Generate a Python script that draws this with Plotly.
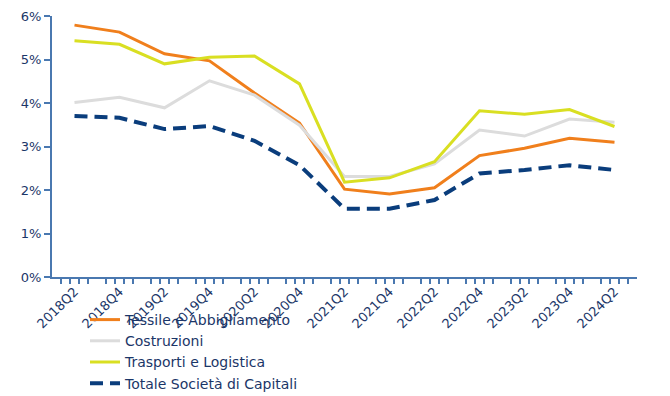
import plotly.graph_objects as go

quarters = ["2018Q2", "2018Q4", "2019Q2", "2019Q4", "2020Q2", "2020Q4", "2021Q2",
            "2021Q4", "2022Q2", "2022Q4", "2023Q2", "2023Q4", "2024Q2"]

tessile = [5.79, 5.63, 5.13, 4.97, 4.23, 3.54, 2.02, 1.91, 2.05, 2.79, 2.96, 3.19, 3.10]
costruzioni = [4.01, 4.13, 3.89, 4.51, 4.18, 3.49, 2.31, 2.31, 2.60, 3.38, 3.24, 3.63, 3.56]
trasporti = [5.43, 5.35, 4.90, 5.05, 5.08, 4.44, 2.18, 2.28, 2.65, 3.82, 3.74, 3.85, 3.46]
totale = [3.70, 3.66, 3.40, 3.47, 3.13, 2.57, 1.57, 1.57, 1.77, 2.38, 2.46, 2.57, 2.46]

y_ticks = [0, 1, 2, 3, 4, 5, 6]
y_ticktext = ["0%", "1%", "2%", "3%", "4%", "5%", "6%"]

NAVY = "#1b3668"
AXIS = "#4a78b0"
FONT = "DejaVu Sans"

x = list(range(len(quarters)))

fig = go.Figure()
series = [
    ("Tessile e Abbigliamento", tessile, "#f07f1c", 3, "solid"),
    ("Costruzioni", costruzioni, "#dcdcdc", 3, "solid"),
    ("Trasporti e Logistica", trasporti, "#d9df22", 3, "solid"),
    ("Totale Società di Capitali", totale, "#0a3d7c", 4, "13px,7px"),
]
for name, vals, color, w, dash in series:
    fig.add_trace(go.Scatter(
        x=x, y=vals, name=name, mode="lines",
        line=dict(color=color, width=w, dash=dash),
        hovertemplate="%{y:.2f}%<extra>" + name + "</extra>",
    ))

minor_vals = []
for i in x:
    minor_vals += [i - 0.3, i - 0.1, i + 0.1, i + 0.3]

# page has an 8px body margin: figure origin sits at (8, 8) in the window
OFF = 8
W, H = 670 - OFF, 396 - OFF
PL, PR, PT, PB = 52, 637, 16, 277   # plot area in window pixels
L, T = PL - OFF, PT - OFF
R = (OFF + W) - PR
B = (OFF + H) - PB
plot_w = PR - PL
plot_h = PB - PT

fig.update_layout(
    width=W, height=H,
    margin=dict(l=L, r=R, t=T, b=B, autoexpand=False),
    paper_bgcolor="white", plot_bgcolor="white",
    font=dict(family=FONT, size=13, color=NAVY),
    showlegend=True,
    legend=dict(
        orientation="v",
        x=(85 - PL) / plot_w, y=-(304 - PB) / plot_h,
        xanchor="left", yanchor="top",
        font=dict(family=FONT, size=14, color=NAVY),
        bgcolor="rgba(0,0,0,0)", tracegroupgap=0,
    ),
    xaxis=dict(
        range=[-0.5, 12.5], automargin=False,
        tickmode="array", tickvals=x, ticktext=quarters,
        tickangle=-45, ticks="", showgrid=False, zeroline=False,
        showline=True, linecolor=AXIS, linewidth=2,
        tickfont=dict(family=FONT, size=13, color=NAVY),
        minor=dict(tickmode="array", tickvals=minor_vals, ticks="outside",
                   ticklen=5, tickwidth=2, tickcolor=AXIS, showgrid=False),
    ),
    yaxis=dict(
        range=[0, 6], automargin=False,
        tickmode="array", tickvals=y_ticks, ticktext=y_ticktext,
        ticks="outside", ticklen=6, tickwidth=2, tickcolor=AXIS,
        showgrid=False, zeroline=False,
        showline=True, linecolor=AXIS, linewidth=2,
        tickfont=dict(family=FONT, size=13, color=NAVY),
    ),
)

fig.write_html("out.html")
